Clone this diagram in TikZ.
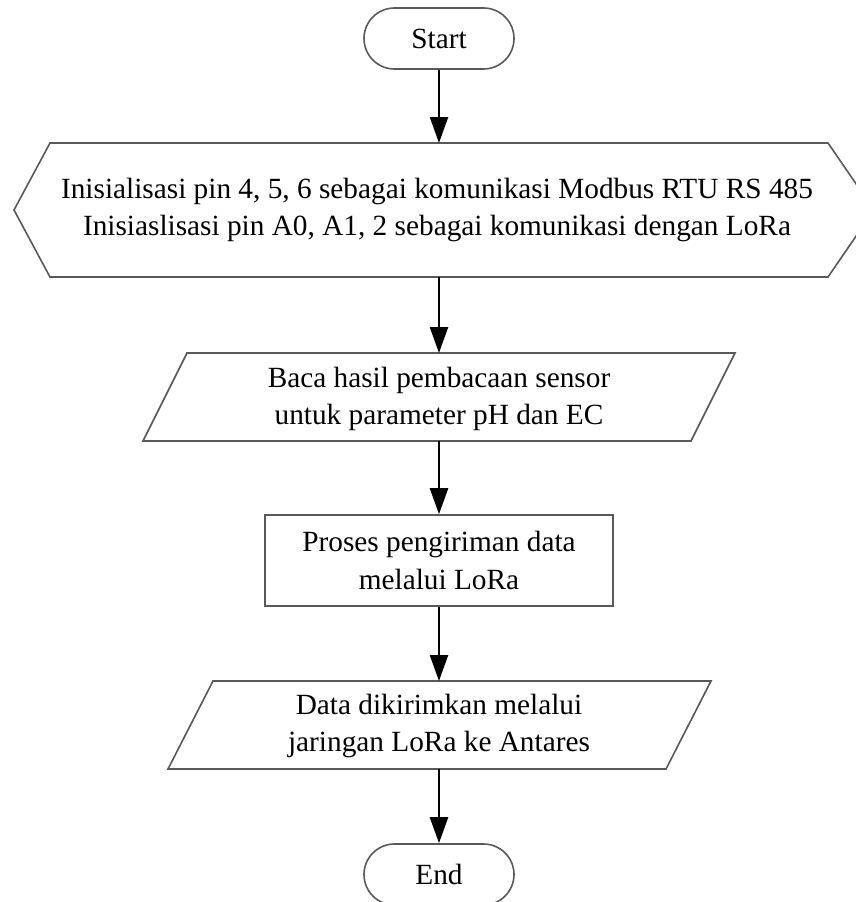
\documentclass[tikz,border=0pt]{standalone}
\usepackage{fontspec}
\setmainfont{Liberation Serif}
\usetikzlibrary{shapes.misc,arrows.meta}
\begin{document}
\begin{tikzpicture}[x=1pt,y=-1pt,
  shapeline/.style={draw=black!65, line width=1.6pt},
  lbl/.style={align=center, font=\fontsize{29.3}{37}\selectfont, inner sep=0pt},
  flow/.style={draw=black, line width=2.4pt, -{Triangle[length=26pt,width=18pt]}},
  terminal/.style={shapeline, rounded rectangle, minimum width=150pt, minimum height=61pt, inner sep=0pt, font=\fontsize{29.3}{37}\selectfont},
  procbox/.style={shapeline, rectangle, minimum width=348pt, minimum height=91pt, align=center, inner sep=0pt, font=\fontsize{29.3}{38}\selectfont}]
\useasboundingbox (0,0) rectangle (855,902);
\fill[white] (0,0) rectangle (855,902);

% Start
\node[terminal] (start) at (439,38.5) {Start};

% Preparation (hexagon)
\draw[shapeline] (14,210) -- (50,143) -- (828,143) -- (874,210) -- (828,277) -- (50,277) -- cycle;
\coordinate (hexT) at (439,143);
\coordinate (hexB) at (439,277);
\node[lbl] (hex) at (437,210) {Inisialisasi pin 4, 5, 6 sebagai komunikasi Modbus RTU RS 485\\Inisiaslisasi pin A0, A1, 2 sebagai komunikasi dengan LoRa};

% Input 1
\draw[shapeline] (187,353) -- (735,353) -- (691,441) -- (143,441) -- cycle;
\coordinate (inT) at (439,353);
\coordinate (inB) at (439,441);
\node[lbl] (in) at (439,399) {Baca hasil pembacaan sensor\\untuk parameter pH dan EC};

% Process
\node[procbox] (proc) at (439,560.5) {Proses pengiriman data\\melalui LoRa};

% Output
\draw[shapeline] (213,681) -- (711,681) -- (666,769) -- (168,769) -- cycle;
\coordinate (outT) at (439,681);
\coordinate (outB) at (439,769);
\node[lbl] (out) at (439,726) {Data dikirimkan melalui\\jaringan LoRa ke Antares};

% End
\node[terminal] (end) at (439,874.5) {End};

% Connectors
\draw[flow] (start.south) -- (hexT);
\draw[flow] (hexB) -- (inT);
\draw[flow] (inB) -- (proc.north);
\draw[flow] (proc.south) -- (outT);
\draw[flow] (outB) -- (end.north);
\end{tikzpicture}
\end{document}
